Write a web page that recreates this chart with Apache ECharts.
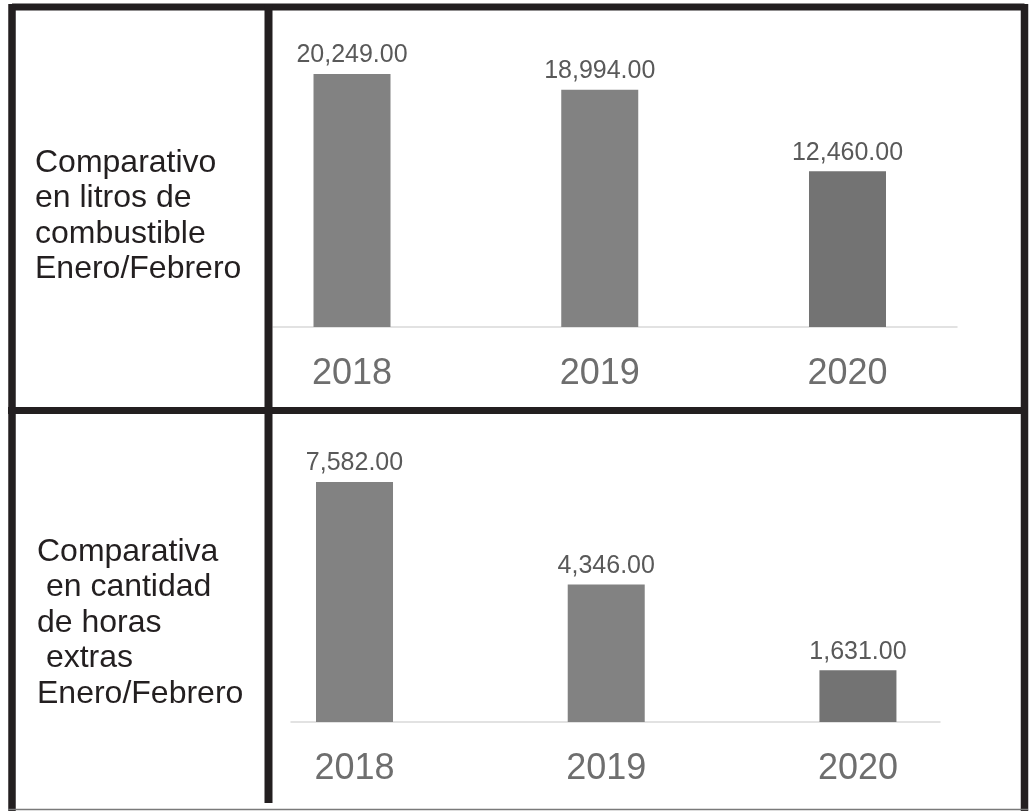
<!DOCTYPE html>
<html>
<head>
<meta charset="utf-8">
<script src="https://cdn.jsdelivr.net/npm/echarts@6/dist/echarts.min.js"></script>
<style>
  html, body { margin: 0; padding: 0; background: #fff; }
  #main { width: 1031px; height: 811px; }
</style>
</head>
<body>
<div id="main"></div>
<script>
// data
var years = ['2018', '2019', '2020'];
var fuelLiters = [20249, 18994, 12460];
var overtimeHours = [7582, 4346, 1631];
var barColors = ['#828282', '#828282', '#737373'];
var fuelTitle = ['Comparativo', 'en litros de', 'combustible', 'Enero/Febrero'];
var hoursTitle = ['Comparativa', ' en cantidad', 'de horas', ' extras', 'Enero/Febrero'];

var FONT = 'Liberation Sans, Arial, sans-serif';
var BORDER = '#231f20';

function fmt(v) {
  return v.toLocaleString('en-US', { minimumFractionDigits: 2, maximumFractionDigits: 2 });
}

function barData(values) {
  return values.map(function (v, i) {
    return { value: [i, v], itemStyle: { color: barColors[i] } };
  });
}

function xAxisFor(gridIndex, min, max) {
  return {
    gridIndex: gridIndex,
    type: 'value',
    min: min,
    max: max,
    splitLine: { show: false },
    axisTick: { show: false },
    axisLine: { show: true, lineStyle: { color: '#d9d9d9', width: 1.5 } },
    axisLabel: {
      customValues: [0, 1, 2],
      formatter: function (v) { return years[Math.round(v)]; },
      color: '#6e6e6e',
      fontSize: 36,
      fontFamily: FONT,
      margin: 29
    }
  };
}

function barSeries(idx, values) {
  return {
    type: 'bar',
    xAxisIndex: idx,
    yAxisIndex: idx,
    barWidth: 77,
    data: barData(values),
    label: {
      show: true,
      position: 'top',
      distance: 6,
      color: '#595959',
      fontSize: 25,
      fontFamily: FONT,
      formatter: function (p) { return fmt(p.value[1]); }
    },
    animation: false
  };
}

function line(x1, y1, x2, y2, w, color) {
  return {
    type: 'line',
    shape: { x1: x1, y1: y1, x2: x2, y2: y2 },
    style: { stroke: color || BORDER, lineWidth: w },
    z: 10
  };
}

function titleText(lines, x, y) {
  return {
    type: 'text',
    left: x,
    top: y,
    style: {
      text: lines.join('\n'),
      font: '32px ' + FONT,
      fill: '#231f20',
      lineHeight: 35.5
    }
  };
}

var chart = echarts.init(document.getElementById('main'));
chart.setOption({
  backgroundColor: '#fff',
  grid: [
    { left: 273, right: 74, top: 14.6, bottom: 484 },
    { left: 291, right: 91, top: 437.1, bottom: 89 }
  ],
  xAxis: [
    xAxisFor(0, -0.3189, 2.442),
    xAxisFor(1, -0.2523, 2.326)
  ],
  yAxis: [
    { gridIndex: 0, type: 'value', min: 0, max: 25000, show: false },
    { gridIndex: 1, type: 'value', min: 0, max: 9000, show: false }
  ],
  series: [
    barSeries(0, fuelLiters),
    barSeries(1, overtimeHours)
  ],
  graphic: [
    // table frame
    line(12, 7, 1024.5, 7, 7),
    line(12, 4, 12, 811, 7.5),
    line(1024.5, 4, 1024.5, 811, 7.5),
    line(8, 410.5, 1028, 410.5, 7),
    line(268.5, 4, 268.5, 803, 8),
    line(8, 809.5, 1028, 809.5, 1.5, '#7a7a7a'),
    titleText(fuelTitle, 35, 145),
    titleText(hoursTitle, 37, 534)
  ]
});
</script>
</body>
</html>
